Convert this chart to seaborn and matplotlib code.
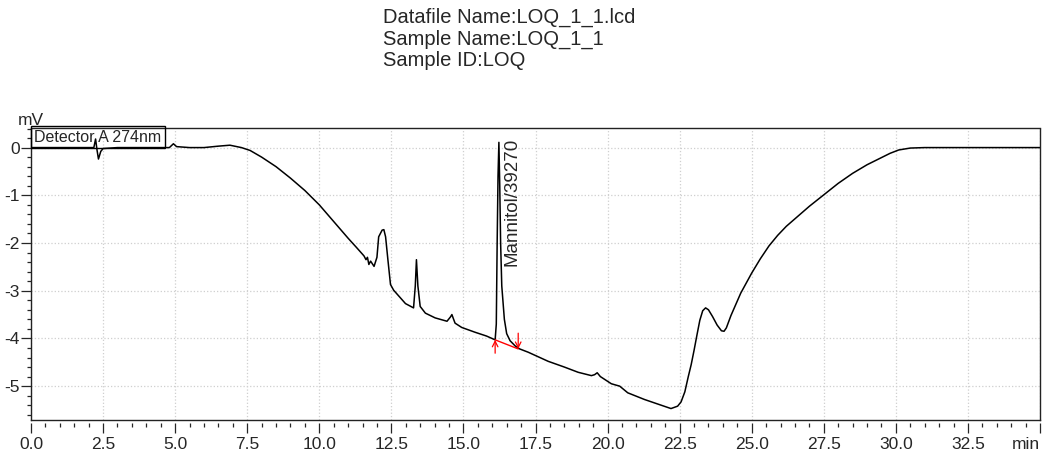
import numpy as np
import pandas as pd
import matplotlib
matplotlib.use('Agg')
import matplotlib.pyplot as plt
import seaborn as sns
from matplotlib.ticker import MultipleLocator

# chromatogram trace (time in min, signal in mV)
time_min = [0.0, 1.0, 2.0, 2.18, 2.24, 2.29, 2.34, 2.42, 2.50, 3.0, 4.0, 4.8, 4.94, 5.05,
            5.5, 6.0, 6.5, 6.9, 7.3, 7.6, 8.0, 8.5, 9.0, 9.5, 10.0, 10.5, 11.0, 11.3,
            11.55, 11.62, 11.67, 11.72, 11.78, 11.9, 12.0, 12.06, 12.18, 12.24, 12.3,
            12.38, 12.47, 12.58, 12.99, 13.27, 13.33, 13.37, 13.42, 13.5, 13.68, 14.02,
            14.43, 14.55, 14.6, 14.66, 14.71, 14.94, 15.4, 15.8, 16.10, 16.14, 16.17,
            16.20, 16.23, 16.26, 16.29, 16.33, 16.42, 16.50, 16.62, 16.80, 16.95, 17.25,
            17.94, 18.5, 18.98, 19.44, 19.55, 19.64, 19.75, 20.13, 20.30, 20.42, 20.7,
            21.28, 21.86, 22.2, 22.43, 22.55, 22.68, 22.8, 22.9, 23.0, 23.1, 23.2, 23.3,
            23.4, 23.5, 23.64, 23.8, 23.95, 24.04, 24.12, 24.28, 24.62, 25.0, 25.3, 25.6,
            25.9, 26.2, 26.6, 27.0, 27.5, 28.0, 28.5, 29.0, 29.5, 29.8, 30.1, 30.5, 31.0,
            32.0, 33.0, 35.0]
signal_mv = [0.0, 0.0, 0.0, 0.0, 0.18, -0.05, -0.24, -0.08, -0.02, 0.0, 0.0, 0.0, 0.08, 0.02,
             0.0, 0.0, 0.03, 0.05, 0.0, -0.06, -0.2, -0.4, -0.64, -0.9, -1.2, -1.55, -1.9, -2.1,
             -2.27, -2.35, -2.3, -2.45, -2.38, -2.49, -2.3, -1.87, -1.73, -1.72, -1.87,
             -2.35, -2.87, -2.99, -3.27, -3.36, -2.9, -2.35, -2.9, -3.33, -3.47, -3.57,
             -3.64, -3.55, -3.5, -3.6, -3.68, -3.77, -3.87, -3.95, -4.03, -3.7, -2.0,
             -0.6, 0.11, -0.8, -2.0, -2.9, -3.6, -3.9, -4.05, -4.16, -4.22, -4.29,
             -4.48, -4.6, -4.71, -4.78, -4.76, -4.72, -4.8, -4.95, -4.98, -5.0, -5.14,
             -5.28, -5.40, -5.47, -5.42, -5.33, -5.12, -4.8, -4.55, -4.25, -3.93, -3.62, -3.42,
             -3.36, -3.40, -3.54, -3.72, -3.84, -3.85, -3.78, -3.52, -3.05, -2.63, -2.33, -2.06,
             -1.84, -1.65, -1.44, -1.23, -0.99, -0.75, -0.54, -0.36, -0.21, -0.12, -0.05, -0.01, 0.0,
             0.0, 0.0, 0.0]

# integrated peak
peak_name = 'Mannitol/39270'
peak_apex = (16.23, 0.11)
baseline_t = [16.10, 16.90]
baseline_v = [-4.03, -4.22]

header = ['Datafile Name:LOQ_1_1.lcd', 'Sample Name:LOQ_1_1', 'Sample ID:LOQ']
detector = 'Detector A 274nm'

x_ticks = np.arange(0, 35.1, 2.5)
x_labels = ['%.1f' % v for v in x_ticks[:-1]] + ['min']
y_ticks = np.arange(-5, 0.5, 1)

df = pd.DataFrame({'t': time_min, 'mv': signal_mv})

sns.set_style('white')
plt.rcParams['font.family'] = ['Liberation Sans', 'DejaVu Sans']

fig = plt.figure(figsize=(10.46, 4.54), dpi=100)
ax = fig.add_axes([31/1046, 34/454, 1009/1046, 291.5/454])

sns.lineplot(data=df, x='t', y='mv', ax=ax, color='black', linewidth=1.1)

ax.plot(baseline_t, baseline_v, color='red', linewidth=1.0)
ax.annotate('', xy=(baseline_t[0], baseline_v[0]), xytext=(baseline_t[0], baseline_v[0] - 0.28),
            arrowprops=dict(arrowstyle='->', color='red', lw=0.9, shrinkA=0, shrinkB=0))
ax.annotate('', xy=(baseline_t[1], baseline_v[1]), xytext=(baseline_t[1], baseline_v[1] + 0.33),
            arrowprops=dict(arrowstyle='->', color='red', lw=0.9, shrinkA=0, shrinkB=0))

ax.annotate(peak_name, xy=peak_apex, xytext=(3, 3.5), textcoords='offset points',
            rotation=90, ha='left', va='top', fontsize=13.5)

ax.set_xlim(0, 35)
ax.set_ylim(-5.71, 0.40)
ax.set_xticks(x_ticks)
ax.xaxis.set_minor_locator(MultipleLocator(0.5))
ax.tick_params(axis='x', which='both', bottom=False, labelbottom=False)
ax.set_yticks(y_ticks)
ax.set_yticklabels(['%d' % v for v in y_ticks])
ax.yaxis.set_minor_locator(MultipleLocator(0.2))
ax.tick_params(axis='y', which='major', direction='out', length=7, width=0.9, pad=1, labelsize=12.5, left=True)
ax.tick_params(axis='y', which='minor', direction='out', length=3, width=0.9, left=True)
ax.grid(True, which='major', color='#cfcfcf', linestyle=':', linewidth=0.9)
for s in ax.spines.values():
    s.set_color('#222222')
    s.set_linewidth(1.0)
ax.set_xlabel('')
ax.set_ylabel('')

# x ticks sit a little below the frame, as in the instrument printout
sec = ax.secondary_xaxis(-0.009)
sec.spines['bottom'].set_visible(False)
sec.set_xticks(x_ticks)
sec.set_xticklabels(x_labels)
sec.xaxis.set_minor_locator(MultipleLocator(0.5))
sec.tick_params(axis='x', which='major', direction='out', length=7, width=0.9, pad=3, labelsize=12.5)
sec.tick_params(axis='x', which='minor', direction='out', length=3, width=0.9)
sec.get_xticklabels()[-1].set_horizontalalignment('right')

ax.text(0.0, 1.0, 'mV', transform=ax.transAxes, ha='center', va='bottom', fontsize=12.5)
ax.text(0.0034, 0.996, detector, transform=ax.transAxes, ha='left', va='top', fontsize=11.5,
        bbox=dict(boxstyle='square,pad=0.22', fc='none', ec='black', lw=1.0))

for i, line in enumerate(header):
    fig.text(383/1046, 1 - (17 + 22*i)/454, line, ha='left', va='center', fontsize=14.5)

fig.savefig('out.png', dpi=100)
